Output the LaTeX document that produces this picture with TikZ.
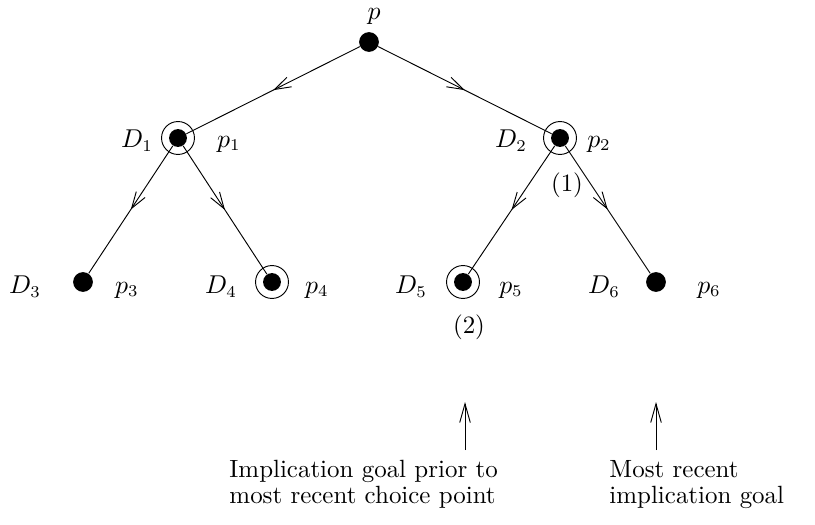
\documentclass[tikz,border=0pt]{standalone}
\usepackage{amsmath}
\usetikzlibrary{arrows.meta,decorations.markings}

\begin{document}
\begin{tikzpicture}[
  x=0.425pt, y=-0.425pt, font=\fontsize{10.6}{11}\selectfont,
  dot/.style={circle, fill=black, inner sep=0pt, minimum size=8.4pt},
  ring/.style={circle, draw, inner sep=0pt, minimum size=14pt},
  mid/.style={postaction={decorate}, decoration={markings,
    mark=at position 0.5 with {\arrow{Straight Barb[length=7pt,width=4.5pt]}}}},
  up/.style={-{Straight Barb[length=8pt,width=4.5pt]}},
  lbl/.style={inner sep=1pt},
  txt/.style={align=left, anchor=north west, inner sep=0pt}
]
\useasboundingbox (0,0) rectangle (815,525);
% tree nodes
\node[dot] (p) at (369,42) {};
\node[dot, minimum size=7.6pt] (p1) at (178,138) {};
\node[dot, minimum size=7.6pt] (p2) at (560,138) {};
\node[dot] (p3) at (83,282) {};
\node[dot, minimum size=7.6pt] (p4) at (272,282) {};
\node[dot, minimum size=7.6pt] (p5) at (463,282) {};
\node[dot] (p6) at (656,282) {};
\node[ring] (r1) at (p1) {};
\node[ring] (r2) at (p2) {};
\node[ring] (r4) at (p4) {};
\node[ring] (r5) at (p5) {};
% labels
\node[lbl, inner sep=0pt] (lp) at (374,16) {$p$};
\node[lbl] (ld1) at (137,141) {$D_1$};
\node[lbl] (lp1) at (229,144) {$p_1$};
\node[lbl] (ld2) at (511,141) {$D_2$};
\node[lbl] (lp2) at (599,144) {$p_2$};
\node[lbl] (ld3) at (25,287) {$D_3$};
\node[lbl] (lp3) at (127,290) {$p_3$};
\node[lbl] (ld4) at (221,287) {$D_4$};
\node[lbl] (lp4) at (317,290) {$p_4$};
\node[lbl] (ld5) at (411,287) {$D_5$};
\node[lbl] (lp5) at (511,290) {$p_5$};
\node[lbl] (ld6) at (604,287) {$D_6$};
\node[lbl] (lp6) at (709,290) {$p_6$};
\node[lbl] (one) at (567,185) {(1)};
\node[lbl] (two) at (469,327) {(2)};
% edges
\draw[mid] (p) -- (p1);
\draw[mid] (p) -- (p2);
\draw[mid] (p1) -- (p3);
\draw[mid] (p1) -- (p4);
\draw[mid] (p2) -- (p5);
\draw[mid] (p2) -- (p6);
% goals
\node[txt] (g5) at (229,460) {Implication goal prior to\\most recent choice point};
\node[txt] (g6) at (609,460) {Most recent\\implication goal};
\coordinate (a5) at (465,450);
\coordinate (b5) at (465,402);
\coordinate (a6) at (656,450);
\coordinate (b6) at (656,402);
\draw[up] (a5) -- (b5);
\draw[up] (a6) -- (b6);
\end{tikzpicture}
\end{document}
